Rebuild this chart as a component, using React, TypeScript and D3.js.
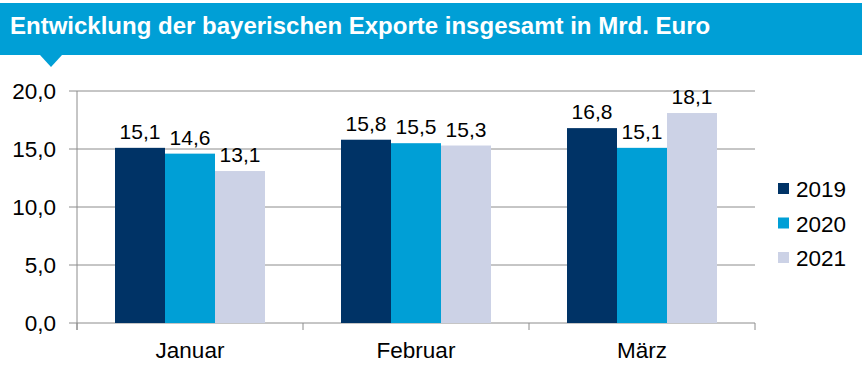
import React from "react";
import * as d3 from "d3";

const categories = ["Januar", "Februar", "März"];
const seriesNames = ["2019", "2020", "2021"];
const values2019 = [15.1, 15.8, 16.8];
const values2020 = [14.6, 15.5, 15.1];
const values2021 = [13.1, 15.3, 18.1];
const yTicks = [0, 5, 10, 15, 20];
const colors = ["#003366", "#009fd6", "#ccd2e6"];
const title = "Entwicklung der bayerischen Exporte insgesamt in Mrd. Euro";

const W = 862, H = 386;
const left = 77, right = 755, top = 91, bottom = 323;
const fmt = (v: number) => v.toFixed(1).replace(".", ",");

export default function App() {
  const series = [values2019, values2020, values2021];
  const x = d3.scaleBand<string>().domain(categories).range([left, right]).paddingInner(0).paddingOuter(0);
  const groupW = 150;
  const xi = d3.scaleBand<string>().domain(seriesNames).range([0, groupW]);
  const y = d3.scaleLinear().domain([0, 20]).range([bottom, top]);
  const font = "'Liberation Sans', Arial, sans-serif";
  const bounds = [...categories.map((c) => x(c)!), right];
  return (
    <svg width={W} height={H} style={{ position: "absolute", left: 0, top: 0, background: "#fff" }}>
      <rect x={0} y={3} width={W} height={52} fill="#009fd6" />
      <path d="M40,55 L62,55 L51,67 Z" fill="#009fd6" />
      <text x={10} y={34} fill="#fff" fontFamily={font} fontWeight="bold" fontSize={24}>{title}</text>
      {yTicks.map((t) => (
        <g key={t}>
          <line x1={69} x2={right} y1={y(t)} y2={y(t)} stroke="#8c8c8c" strokeWidth={1} />
          <text x={56} y={y(t) + 7.5} textAnchor="end" fontFamily={font} fontSize={22.5} fill="#000">{fmt(t)}</text>
        </g>
      ))}
      <line x1={left} x2={left} y1={top} y2={330} stroke="#8c8c8c" />
      {bounds.map((b, i) => (
        <line key={i} x1={b} x2={b} y1={bottom} y2={330} stroke="#8c8c8c" />
      ))}
      {categories.map((c, ci) => {
        const gx = x(c)! + (x.bandwidth() - groupW) / 2;
        return (
          <g key={c}>
            {seriesNames.map((s, si) => {
              const v = series[si][ci];
              const bx = gx + xi(s)!;
              return (
                <g key={s}>
                  <rect x={bx} y={y(v)} width={xi.bandwidth()} height={bottom - y(v)} fill={colors[si]} />
                  <text x={bx + xi.bandwidth() / 2} y={y(v) - 9} textAnchor="middle" fontFamily={font} fontSize={21} fill="#000">{fmt(v)}</text>
                </g>
              );
            })}
            <text x={x(c)! + x.bandwidth() / 2} y={358} textAnchor="middle" fontFamily={font} fontSize={22.5} fill="#000">{c}</text>
          </g>
        );
      })}
      {seriesNames.map((s, i) => (
        <g key={s}>
          <rect x={778} y={183 + i * 34.5} width={11} height={11} fill={colors[i]} />
          <text x={796} y={197 + i * 34.5} fontFamily={font} fontSize={22.5} fill="#000">{s}</text>
        </g>
      ))}
    </svg>
  );
}
